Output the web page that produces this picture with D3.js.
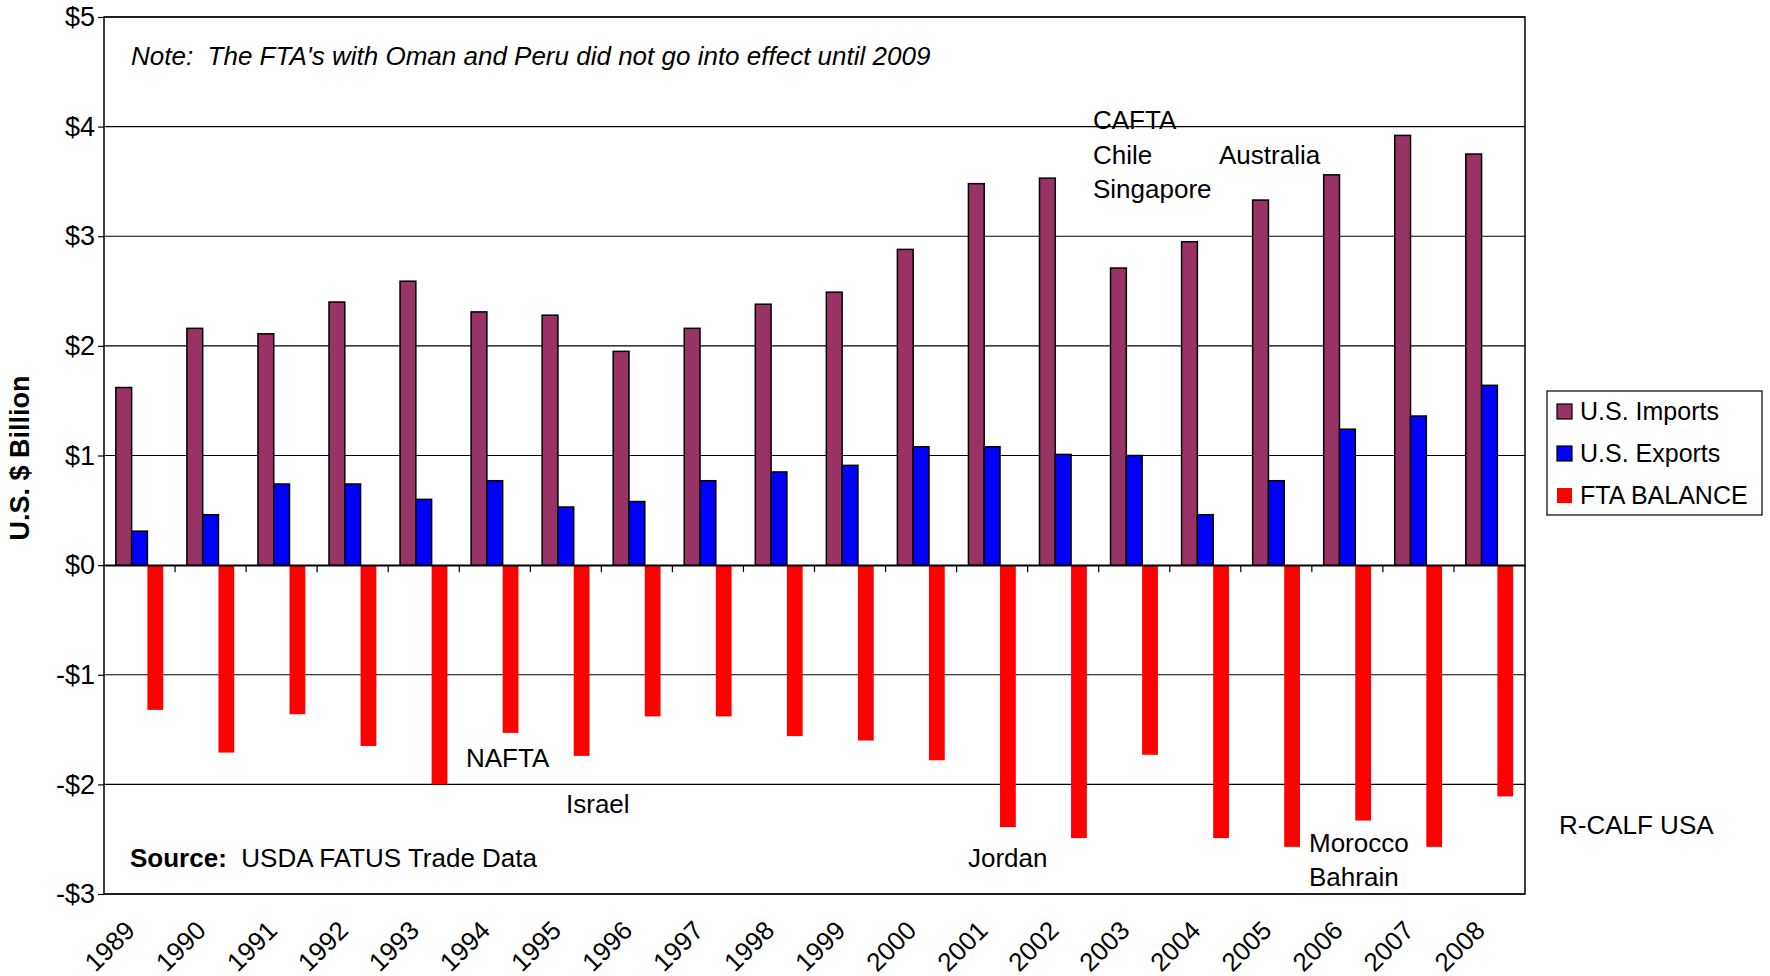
<!DOCTYPE html>
<html>
<head>
<meta charset="utf-8">
<script src="https://cdn.jsdelivr.net/npm/d3@7"></script>
<style>
  body { margin: 0; background: #fff; }
  svg text { font-family: "Liberation Sans", Arial, sans-serif; fill: #000; }
</style>
</head>
<body>
<div id="chart"></div>
<script>
// Data ($ billion)
var years = ["1989","1990","1991","1992","1993","1994","1995","1996","1997","1998",
             "1999","2000","2001","2002","2003","2004","2005","2006","2007","2008"];
var imports = [1.62, 2.16, 2.11, 2.40, 2.59, 2.31, 2.28, 1.95, 2.16, 2.38,
               2.49, 2.88, 3.48, 3.53, 2.71, 2.95, 3.33, 3.56, 3.92, 3.75];
var exports = [0.31, 0.46, 0.74, 0.74, 0.60, 0.77, 0.53, 0.58, 0.77, 0.85,
               0.91, 1.08, 1.08, 1.01, 1.00, 0.46, 0.77, 1.24, 1.36, 1.64];
var balance = [-1.32, -1.71, -1.36, -1.65, -2.00, -1.53, -1.74, -1.38, -1.38, -1.56,
               -1.60, -1.78, -2.39, -2.49, -1.73, -2.49, -2.57, -2.33, -2.57, -2.11];
var seriesNames = ["U.S. Imports", "U.S. Exports", "FTA BALANCE"];
var yTicks = [-3, -2, -1, 0, 1, 2, 3, 4, 5];

// Set up the chart
//=================================
var svgWidth = 1770, svgHeight = 976;
var margin = { top: 17, right: 245, bottom: 82, left: 104 };
var width = svgWidth - margin.left - margin.right;
var height = svgHeight - margin.top - margin.bottom;
var fs = "26px";

var svg = d3.select("#chart").append("svg")
  .attr("width", svgWidth)
  .attr("height", svgHeight);

var chartGroup = svg.append("g")
  .attr("transform", `translate(${margin.left}, ${margin.top})`);

var colors = { "U.S. Imports": "#993366", "U.S. Exports": "#0000ff", "FTA BALANCE": "#ff0000" };

var x0 = d3.scaleBand().domain(years).range([0, width]).padding(0);
var x1 = d3.scaleBand().domain(seriesNames).range([0, x0.bandwidth()])
  .paddingInner(0).paddingOuter(0.75);
var y = d3.scaleLinear().domain([-3, 5]).range([height, 0]);

// gridlines
chartGroup.append("g")
  .selectAll("line").data(yTicks).enter().append("line")
  .attr("x1", 0).attr("x2", width)
  .attr("y1", d => y(d)).attr("y2", d => y(d))
  .attr("stroke", "#000").attr("stroke-width", 1.2);

// bars
var table = years.map((yr, i) => ({
  year: yr,
  values: [
    { name: "U.S. Imports", v: imports[i] },
    { name: "U.S. Exports", v: exports[i] },
    { name: "FTA BALANCE", v: balance[i] }
  ]
}));

var groups = chartGroup.selectAll(".grp").data(table).enter().append("g")
  .attr("transform", d => `translate(${x0(d.year)},0)`);

groups.selectAll("rect").data(d => d.values).enter().append("rect")
  .attr("x", d => x1(d.name))
  .attr("width", x1.bandwidth())
  .attr("y", d => y(Math.max(0, d.v)))
  .attr("height", d => Math.abs(y(d.v) - y(0)))
  .attr("fill", d => colors[d.name])
  .attr("stroke", d => d.name === "FTA BALANCE" ? "none" : "#000")
  .attr("stroke-width", 1.5);

// category axis at zero with tick marks between categories
var xAxisZero = d3.axisBottom(x0).tickSize(0).tickFormat("");
chartGroup.append("g").attr("transform", `translate(0, ${y(0)})`).call(xAxisZero)
  .select(".domain").attr("stroke", "#000").attr("stroke-width", 1.5);
chartGroup.append("g").selectAll("line").data(years.slice(1)).enter().append("line")
  .attr("x1", d => x0(d)).attr("x2", d => x0(d))
  .attr("y1", y(0)).attr("y2", y(0) + 7)
  .attr("stroke", "#000").attr("stroke-width", 1.2);

// plot border
chartGroup.append("rect")
  .attr("x", 0).attr("y", 0).attr("width", width).attr("height", height)
  .attr("fill", "none").attr("stroke", "#000").attr("stroke-width", 1.5);

// y axis
var leftAxis = d3.axisLeft(y).tickValues(yTicks).tickSize(6).tickPadding(3)
  .tickFormat(d => (d < 0 ? "-$" + Math.abs(d) : "$" + d));
var yAxis = chartGroup.append("g").call(leftAxis);
yAxis.select(".domain").remove();
yAxis.selectAll("line").attr("stroke", "#000").attr("stroke-width", 1.2);
yAxis.selectAll("text").attr("font-size", "27px")
  .attr("font-family", "Liberation Sans, Arial, sans-serif").attr("fill", "#000");

// year labels at the bottom
chartGroup.append("g").selectAll("text").data(years).enter().append("text")
  .attr("transform", d => `translate(${x0(d) + x0.bandwidth() / 2 - 3}, ${height + 38}) rotate(-45)`)
  .attr("text-anchor", "end")
  .attr("font-size", fs)
  .text(d => d);

// y axis title
svg.append("text")
  .attr("transform", "translate(29, 458) rotate(-90)")
  .attr("text-anchor", "middle")
  .attr("font-size", "27px")
  .attr("font-weight", "bold")
  .text("U.S. $ Billion");

// note
svg.append("text")
  .attr("x", 131).attr("y", 65)
  .attr("font-size", fs).attr("font-style", "italic")
  .attr("xml:space", "preserve")
  .text("Note:  The FTA's with Oman and Peru did not go into effect until 2009");

// annotations
var notes = [
  { t: "CAFTA", x: 1093, y: 129 },
  { t: "Chile", x: 1093, y: 164 },
  { t: "Singapore", x: 1093, y: 198 },
  { t: "Australia", x: 1219, y: 164 },
  { t: "NAFTA", x: 466, y: 767 },
  { t: "Israel", x: 566, y: 813 },
  { t: "Jordan", x: 968, y: 867 },
  { t: "Morocco", x: 1309, y: 852 },
  { t: "Bahrain", x: 1309, y: 886 },
  { t: "R-CALF USA", x: 1559, y: 834 }
];
svg.append("g").selectAll("text").data(notes).enter().append("text")
  .attr("x", d => d.x).attr("y", d => d.y)
  .attr("font-size", fs)
  .text(d => d.t);

var src = svg.append("text").attr("x", 130).attr("y", 867).attr("font-size", fs)
  .attr("xml:space", "preserve");
src.append("tspan").attr("font-weight", "bold").text("Source:");
src.append("tspan").text("  USDA FATUS Trade Data");

// legend
var legend = svg.append("g").attr("transform", "translate(1547, 391)");
legend.append("rect").attr("width", 215).attr("height", 124)
  .attr("fill", "#fff").attr("stroke", "#000").attr("stroke-width", 1.2);
var items = legend.selectAll(".item").data(seriesNames).enter().append("g")
  .attr("transform", (d, i) => `translate(10, ${20 + i * 42})`);
items.append("rect").attr("width", 15).attr("height", 15).attr("y", -7)
  .attr("fill", d => colors[d])
  .attr("stroke", d => d === "FTA BALANCE" ? "none" : "#000")
  .attr("stroke-width", 1.2);
items.append("text").attr("x", 23).attr("y", 9)
  .attr("font-size", "25px")
  .text(d => d);
</script>
</body>
</html>
